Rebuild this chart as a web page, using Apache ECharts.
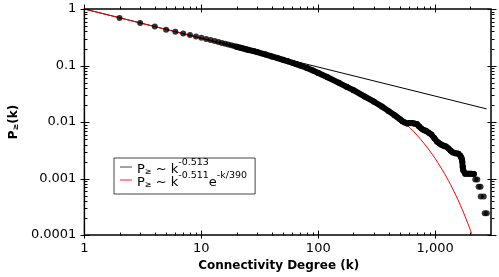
<!DOCTYPE html>
<html><head><meta charset="utf-8">
<script src="https://cdn.jsdelivr.net/npm/echarts@6/dist/echarts.min.js"></script>
<style>html,body{margin:0;padding:0;background:#fff}#c{width:499px;height:277px}</style>
</head><body><div id="c"></div>
<script>
// ---- tick values / labels ----
const xTickLabels = ['1', '10', '100', '1,000'];
const yTickLabels = ['0.0001', '0.001', '0.01', '0.1', '1'];
const xMajorTicks = [1, 10, 100, 1000];
const xMinorTicks = [2,3,4,5,6,7,8,9,20,30,40,50,60,70,80,90,200,300,400,500,600,700,800,900,2000];
const yMajorTicks = [0.0001, 0.001, 0.01, 0.1, 1];
const yMinorTicks = [0.0002,0.0003,0.0004,0.0005,0.0006,0.0007,0.0008,0.0009,
  0.002,0.003,0.004,0.005,0.006,0.007,0.008,0.009,
  0.02,0.03,0.04,0.05,0.06,0.07,0.08,0.09,
  0.2,0.3,0.4,0.5,0.6,0.7,0.8,0.9];

// ---- data: individual points (low k) ----
const dotK = [2,3,4,5,6,7,8,9,10,11,12,13,14,15,16,17,18,19];
const dotP = [0.695,0.568,0.489,0.430,0.397,0.369,0.348,0.326,0.310,0.296,0.284,0.272,0.261,0.251,0.243,0.235,0.228,0.221];

// ---- data: dense part of the distribution ----
const bandK = [20,22,25,28,30,35,40,45,50,55,60,65,70,80,90,100,120,150,175,200,250,300,350,400,450,500,
  524,550,576,600,634,660,697,730,766,800,843,880,927,981,1039,1080,1122,1180,1233,1300,1356,1420,1491,
  1579,1641,1680,1703,1720,1737,1804,1909,2023,2142];
const bandP = [0.215,0.204,0.190,0.180,0.173,0.1575,0.145,0.135,0.126,0.1187,0.112,0.1058,0.100,0.0903,0.0813,0.0736,
  0.0618,0.0494,0.0420,0.0367,0.0282,0.0229,0.0188,0.0156,0.0132,0.0112,
  0.0103,0.0098,0.0094,0.0096,0.0096,0.0094,0.0092,0.0083,0.0076,0.0072,0.0069,0.0065,0.0060,0.0052,0.0045,
  0.0042,0.0040,0.0038,0.0037,0.0034,0.0031,0.0029,0.0028,
  0.00275,0.00253,0.0023,0.0020,0.0016,0.0014,0.00122,0.00122,0.00122,0.00120];

// ---- data: isolated tail points ----
const tailK = [2200,2290,2350,2440,2450,2600,2650,2760];
const tailP = [0.00096,0.00096,0.00072,0.00072,0.00048,0.00048,0.000243,0.000243];

// ---- fit: P ~ k^-0.513 ----
const powK = [1, 2750];
const powP = [1, 0.0171];

// ---- fit: P ~ k^-0.511 e^(-k/390) (tabulated) ----
const expK = [1,2,5,10,20,50,100,150,200,300,400,500,600,700,800,900,1000,1200,1400,1600,1800,2000,2100];
const expP = [0.9974,0.6982,0.4338,0.3005,0.2056,0.1192,0.07357,0.0526,0.03994,0.02512,0.01679,0.01159,
  0.00817,0.005843,0.004224,0.003078,0.002257,0.001231,0.0006812,0.000381,0.0002148,0.0001219,0.000092];

const zip = (a, b) => a.map((v, i) => [v, b[i]]);
const X_MIN = 1, X_MAX = 3000, Y_MIN = 0.0001, Y_MAX = 1;

// tick marks as items: [x, y, kind]  kind 0 x-major, 1 x-minor, 2 y-major, 3 y-minor
const tickItems = [];
xMajorTicks.forEach(v => { tickItems.push([v, Y_MIN, 0], [v, Y_MAX, 0]); });
xMinorTicks.forEach(v => { tickItems.push([v, Y_MIN, 1], [v, Y_MAX, 1]); });
yMajorTicks.forEach(v => { tickItems.push([X_MIN, v, 2], [X_MAX, v, 2]); });
yMinorTicks.forEach(v => { tickItems.push([X_MIN, v, 3], [X_MAX, v, 3]); });

const FONT = 'DejaVu Sans';
const chart = echarts.init(document.getElementById('c'), null, {renderer: 'canvas'});
chart.setOption({
  animation: false,
  backgroundColor: '#fff',
  grid: {left: 71, right: 8, top: 9, bottom: 40, show: true, borderColor: '#000', borderWidth: 1.5, backgroundColor: 'transparent'},
  xAxis: {
    type: 'log', logBase: 10, min: X_MIN, max: X_MAX,
    axisLine: {show: false}, axisTick: {show: false}, splitLine: {show: false}, minorTick: {show: false},
    axisLabel: {
      margin: 7, color: '#000', fontFamily: FONT, fontSize: 13,
      formatter: v => { const e = Math.round(Math.log10(v)); return Math.abs(Math.log10(v) - e) < 1e-6 ? (xTickLabels[e] || '') : ''; }
    },
    name: 'Connectivity Degree (k)', nameLocation: 'middle', nameGap: 22,
    nameTextStyle: {color: '#000', fontFamily: FONT, fontSize: 12, fontWeight: 'bold', padding: [0, 18, 0, 0]}
  },
  yAxis: {
    type: 'log', logBase: 10, min: Y_MIN, max: Y_MAX,
    axisLine: {show: false}, axisTick: {show: false}, splitLine: {show: false}, minorTick: {show: false},
    axisLabel: {
      margin: 8, color: '#000', fontFamily: FONT, fontSize: 13,
      formatter: v => { const e = Math.round(Math.log10(v)); return yTickLabels[e + 4] || ''; }
    },
    name: '{b|P}{s|≥}{b|(k)}', nameLocation: 'middle', nameGap: 62, nameRotate: 90,
    nameTextStyle: {
      color: '#000',
      rich: {
        b: {fontFamily: FONT, fontSize: 12, fontWeight: 'bold', color: '#000', lineHeight: 16, verticalAlign: 'bottom'},
        s: {fontFamily: FONT, fontSize: 8, fontWeight: 'bold', color: '#000', lineHeight: 10, verticalAlign: 'bottom'}
      }
    }
  },
  legend: {
    orient: 'vertical', left: 114, top: 158,
    backgroundColor: '#fff', borderColor: '#444', borderWidth: 1,
    padding: [0, 8, 5, 6], itemGap: -5, itemWidth: 12, itemHeight: 1, icon: 'rect',
    data: [{name: 'pow', itemStyle: {color: '#444'}}, {name: 'exp', itemStyle: {color: '#f22'}}],
    formatter: n => n === 'pow'
      ? '{b|P}{s|≥}{b| ~ k}{u|-0.513}'
      : '{b|P}{s|≥}{b| ~ k}{u|-0.511}{b|e}{u|-k/390}',
    textStyle: {
      rich: {
        b: {fontFamily: FONT, fontSize: 13, color: '#000', lineHeight: 18, verticalAlign: 'bottom'},
        s: {fontFamily: FONT, fontSize: 8, color: '#000', lineHeight: 11, verticalAlign: 'bottom'},
        u: {fontFamily: FONT, fontSize: 9.5, color: '#000', lineHeight: 11, verticalAlign: 'top'}
      }
    }
  },
  series: [
    {name: 'pow', type: 'line', data: zip(powK, powP), symbol: 'none', showSymbol: false,
     lineStyle: {color: '#000', width: 1}, itemStyle: {color: '#000'}, z: 2},
    {name: 'exp', type: 'line', data: zip(expK, expP), symbol: 'none', showSymbol: false, smooth: 0.3,
     lineStyle: {color: '#f00', width: 1}, itemStyle: {color: '#f00'}, z: 3},
    {name: 'band', type: 'line', data: zip(bandK, bandP), symbol: 'circle', symbolSize: 6, showAllSymbol: true,
     lineStyle: {color: '#000', width: 6, cap: 'round', join: 'round'}, itemStyle: {color: '#000'}, z: 4},
    {name: 'dots', type: 'scatter', data: zip(dotK, dotP).concat(zip(tailK, tailP)), symbol: 'circle', symbolSize: 6,
     itemStyle: {color: '#000'}, z: 5},
    {name: 'ticks', type: 'custom', data: tickItems, clip: false, silent: true, z: 6,
     renderItem: (params, api) => {
       const kind = api.value(2);
       const p = api.coord([api.value(0), api.value(1)]);
       const px = Math.round(p[0]) + 0.5, py = Math.round(p[1]) + 0.5;
       let shape;
       if (kind < 2) {
         shape = kind === 0 ? {x1: px, y1: py + 3, x2: px, y2: py - 5} : {x1: px, y1: py, x2: px, y2: py - 3};
       } else {
         shape = kind === 2 ? {x1: px - 4, y1: py, x2: px + 5, y2: py} : {x1: px, y1: py, x2: px + 3, y2: py};
       }
       return {type: 'line', shape: shape, style: {stroke: '#000', lineWidth: 1}};
     }}
  ]
});
</script></body></html>
